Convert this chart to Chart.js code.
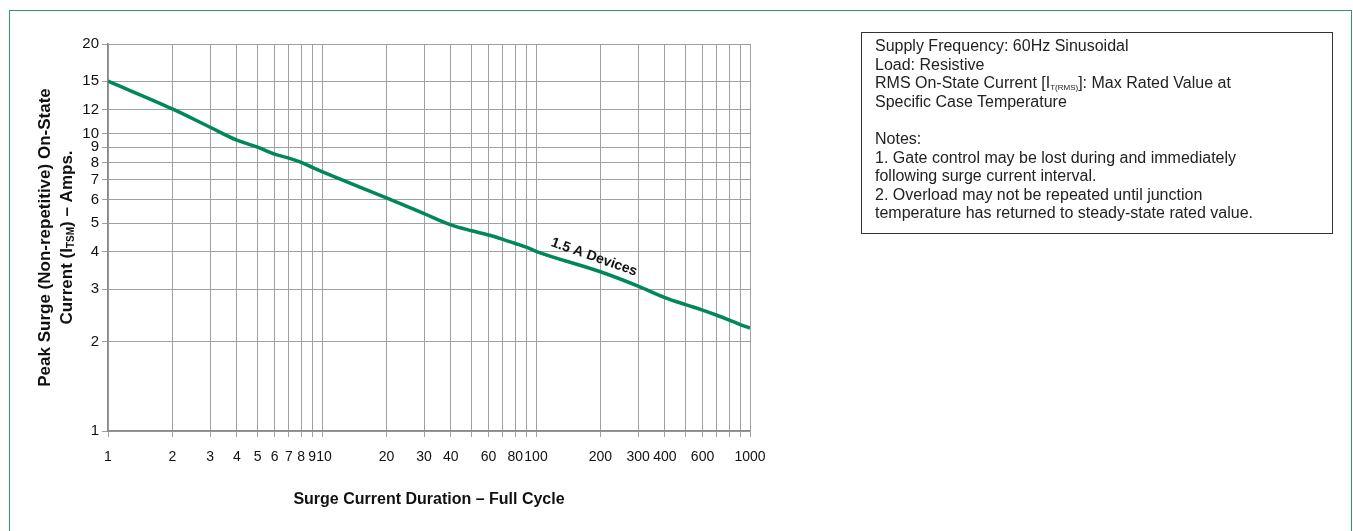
<!DOCTYPE html>
<html>
<head>
<meta charset="utf-8">
<script src="https://cdn.jsdelivr.net/npm/chart.js@4/dist/chart.umd.min.js"></script>
<style>
  body { margin: 0; background: #fff; }
  #wrap { position: relative; width: 1353px; height: 531px; overflow: hidden; }
  #chart { position: absolute; left: 0; top: 0; }
  #frame { position: absolute; left: 9px; top: 10px; width: 1341px; height: 540px; border: 1.5px solid #2f9a66; pointer-events: none; }
  #notes { position: absolute; left: 861px; top: 32px; width: 457px; height: 196px; border: 1px solid #333;
           padding: 4px 0 0 13px; font: 16px 'Liberation Sans', Arial, sans-serif; line-height: 18.6px; color: #222; }
  #notes sub { font-size: 8px; line-height: 0; vertical-align: -2px; }
</style>
</head>
<body>
<div id="wrap">
  <canvas id="chart" width="1353" height="531"></canvas>
  <div id="frame"></div>
  <div id="notes">
    Supply Frequency: 60Hz Sinusoidal<br>
    Load: Resistive<br>
    RMS On-State Current [I<sub>T(RMS)</sub>]: Max Rated Value at<br>
    Specific Case Temperature<br>
    <br>
    Notes:<br>
    1. Gate control may be lost during and immediately<br>
    following surge current interval.<br>
    2. Overload may not be repeated until junction<br>
    temperature has returned to steady-state rated value.
  </div>
</div>
<script>
// surge duration in full cycles (x gridlines)
const durations = [1, 2, 3, 4, 5, 6, 7, 8, 9, 10, 20, 30, 40, 50, 60, 70, 80, 90, 100, 200, 300, 400, 500, 600, 700, 800, 900, 1000];
// peak surge current, amps
const surgeAmps = [15, 12.1, 10.5, 9.5, 9.0, 8.53, 8.27, 8.0, 7.7, 7.45, 6.08, 5.38, 4.93, 4.71, 4.56, 4.41, 4.27, 4.15, 4.02, 3.43, 3.07, 2.81, 2.66, 2.55, 2.45, 2.36, 2.28, 2.22];
const xLabels = [1, 2, 3, 4, 5, 6, 7, 8, 9, 10, 20, 30, 40, 60, 80, 100, 200, 300, 400, 600, 1000];
const yTicks = [1, 2, 3, 4, 5, 6, 7, 8, 9, 10, 12, 15, 20];
const seriesLabel = '1.5 A Devices';

const green = '#00875a';
const gridColor = '#a0a0a0';
const fam = "'Liberation Sans', Arial, sans-serif";

const titles = {
    id: 'titles',
    afterDraw(chart) {
        const ctx = chart.ctx;
        const area = chart.chartArea;
        ctx.save();
        ctx.fillStyle = '#111';
        // x title
        ctx.font = 'bold 16px ' + fam;
        ctx.textAlign = 'center';
        ctx.textBaseline = 'middle';
        ctx.fillText('Surge Current Duration \u2013 Full Cycle', (area.left + area.right) / 2, 500);

        // y title, two rotated lines, second one has a subscript
        const midY = (area.top + area.bottom) / 2;
        ctx.translate(0, midY);
        ctx.rotate(-Math.PI / 2);
        ctx.font = 'bold 17px ' + fam;
        ctx.fillText('Peak Surge (Non-repetitive) On-State', 0, 45);
        const big = 'bold 17px ' + fam;
        const small = 'bold 10px ' + fam;
        const parts = [['Current (I', big, 0], ['TSM', small, 4], [') \u2013 Amps.', big, 0]];
        let total = 0;
        parts.forEach(p => { ctx.font = p[1]; total += ctx.measureText(p[0]).width; });
        let x = -total / 2;
        ctx.textAlign = 'left';
        parts.forEach(p => {
            ctx.font = p[1];
            ctx.fillText(p[0], x, 67 + p[2]);
            x += ctx.measureText(p[0]).width;
        });
        ctx.restore();

        // curve label, placed along the line between 100 and 200 cycles
        const pts = chart.getDatasetMeta(0).data;
        const i = durations.indexOf(100);
        const a = pts[i], b = pts[i + 1];
        const t = 0.84;
        const px = a.x + (b.x - a.x) * t;
        const py = a.y + (b.y - a.y) * t;
        const ang = Math.atan2(b.y - a.y, b.x - a.x) + 0.03;
        ctx.save();
        ctx.translate(px, py);
        ctx.rotate(ang);
        ctx.font = 'bold 14px ' + fam;
        ctx.fillStyle = '#111';
        ctx.textAlign = 'center';
        ctx.textBaseline = 'bottom';
        ctx.fillText(seriesLabel, 0, -5);
        ctx.restore();
    }
};

new Chart(document.getElementById('chart'), {
    type: 'line',
    data: {
        datasets: [{
            label: seriesLabel,
            data: durations.map((d, i) => ({ x: d, y: surgeAmps[i] })),
            borderColor: green,
            borderWidth: 3.5,
            pointRadius: 0,
            cubicInterpolationMode: 'monotone',
            fill: false
        }]
    },
    options: {
        responsive: false,
        animation: false,
        devicePixelRatio: 1,
        layout: { padding: { top: 44, right: 603, left: 0, bottom: 0 } },
        plugins: { legend: { display: false }, tooltip: { enabled: false } },
        scales: {
            x: {
                type: 'logarithmic',
                min: 1,
                max: 1000,
                afterBuildTicks: s => { s.ticks = durations.map(v => ({ value: v })); },
                afterFit: s => { s.height = 100; },
                grid: { color: gridColor, lineWidth: 1, tickLength: 6, tickColor: gridColor },
                border: { color: '#8a8a8a', width: 1.5 },
                ticks: {
                    autoSkip: false,
                    maxRotation: 0,
                    padding: 12,
                    color: '#111',
                    font: { family: fam, size: 14 },
                    // leading space nudges "10" clear of "9"
                    callback: v => xLabels.includes(v) ? (v === 10 ? ' 10' : String(v)) : ''
                }
            },
            y: {
                type: 'logarithmic',
                min: 1,
                max: 20,
                afterBuildTicks: s => { s.ticks = yTicks.map(v => ({ value: v })); },
                afterFit: s => { s.width = 108; },
                grid: { color: gridColor, lineWidth: 1, tickLength: 6, tickColor: gridColor },
                border: { color: '#8a8a8a', width: 1.5 },
                ticks: {
                    autoSkip: false,
                    padding: 3,
                    color: '#111',
                    font: { family: fam, size: 15 },
                    callback: v => yTicks.includes(v) ? String(v) : ''
                }
            }
        }
    },
    plugins: [titles]
});
</script>
</body>
</html>
